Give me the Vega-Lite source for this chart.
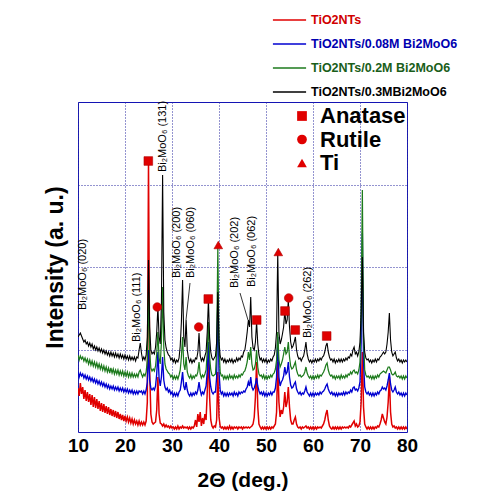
{
"$schema": "https://vega.github.io/schema/vega-lite/v6.json",
"width": 329, "height": 330,
"autosize": {"type": "none"},
"padding": {"left": 78, "top": 102, "right": 82, "bottom": 67},
"background": "white",
"config": {
  "view": {"stroke": "#1414b4", "strokeWidth": 1},
  "font": "Liberation Sans"
},
"datasets": {
"spec": [
{"x":10.00,"r":44,"b":60,"g":77,"k":95},{"x":10.25,"r":36,"b":55,"g":72,"k":97},{"x":10.50,"r":49,"b":59,"g":76,"k":99},{"x":10.75,"r":38,"b":56,"g":73,"k":96},
{"x":11.00,"r":45,"b":58,"g":75,"k":93},{"x":11.25,"r":33,"b":54,"g":71,"k":90},{"x":11.50,"r":42,"b":57,"g":74,"k":92},{"x":11.75,"r":31,"b":53,"g":70,"k":88},
{"x":12.00,"r":40,"b":56,"g":73,"k":90},{"x":12.25,"r":30,"b":52,"g":68,"k":86},{"x":12.50,"r":38,"b":55,"g":72,"k":89},{"x":12.75,"r":27,"b":51,"g":67,"k":85},
{"x":13.00,"r":37,"b":54,"g":71,"k":88},{"x":13.25,"r":25,"b":50,"g":66,"k":83},{"x":13.50,"r":35,"b":53,"g":70,"k":86},{"x":13.75,"r":24,"b":49,"g":65,"k":82},
{"x":14.00,"r":33,"b":52,"g":69,"k":85},{"x":14.25,"r":23,"b":48,"g":64,"k":81},{"x":14.50,"r":31,"b":51,"g":68,"k":84},{"x":14.75,"r":21,"b":47,"g":63,"k":80},
{"x":15.00,"r":29,"b":50,"g":67,"k":83},{"x":15.25,"r":20,"b":46,"g":62,"k":79},{"x":15.50,"r":28,"b":49,"g":66,"k":82},{"x":15.75,"r":19,"b":45,"g":61,"k":78},
{"x":16.00,"r":26,"b":48,"g":65,"k":81},{"x":16.25,"r":18,"b":44,"g":60,"k":77},{"x":16.50,"r":25,"b":47,"g":64,"k":80},{"x":16.75,"r":17,"b":43,"g":59,"k":76},
{"x":17.00,"r":23,"b":46,"g":64,"k":80},{"x":17.25,"r":16,"b":43,"g":59,"k":76},{"x":17.50,"r":22,"b":46,"g":63,"k":79},{"x":17.75,"r":15,"b":42,"g":58,"k":75},
{"x":18.00,"r":21,"b":45,"g":62,"k":79},{"x":18.25,"r":14,"b":42,"g":58,"k":75},{"x":18.50,"r":20,"b":45,"g":62,"k":78},{"x":18.75,"r":13,"b":41,"g":57,"k":74},
{"x":19.00,"r":18,"b":44,"g":61,"k":78},{"x":19.25,"r":12,"b":41,"g":57,"k":74},{"x":19.50,"r":17,"b":44,"g":61,"k":77},{"x":19.75,"r":11,"b":40,"g":56,"k":73},
{"x":20.00,"r":16,"b":43,"g":60,"k":77},{"x":20.25,"r":11,"b":40,"g":56,"k":73},{"x":20.50,"r":15,"b":43,"g":60,"k":76},{"x":20.75,"r":10,"b":39,"g":55,"k":72},
{"x":21.00,"r":14,"b":42,"g":59,"k":76},{"x":21.25,"r":9,"b":39,"g":55,"k":72},{"x":21.50,"r":13,"b":42,"g":59,"k":75},{"x":21.75,"r":8,"b":38,"g":55,"k":72},
{"x":22.00,"r":12,"b":41,"g":58,"k":75},{"x":22.25,"r":8,"b":38,"g":55,"k":71},{"x":22.50,"r":11,"b":41,"g":58,"k":75},{"x":22.75,"r":7,"b":38,"g":55,"k":74},
{"x":23.00,"r":11,"b":41,"g":60,"k":82},{"x":23.25,"r":7,"b":40,"g":62,"k":89},{"x":23.50,"r":10,"b":41,"g":58,"k":79},{"x":23.75,"r":7,"b":38,"g":55,"k":72},
{"x":24.00,"r":10,"b":41,"g":58,"k":75},{"x":24.25,"r":7,"b":38,"g":56,"k":72},{"x":24.50,"r":11,"b":42,"g":60,"k":77},{"x":24.75,"r":30,"b":50,"g":72,"k":95},
{"x":25.00,"r":271,"b":82,"g":140,"k":172},{"x":25.25,"r":60,"b":52,"g":80,"k":105},{"x":25.50,"r":18,"b":44,"g":64,"k":82},{"x":25.75,"r":10,"b":42,"g":61,"k":78},
{"x":26.00,"r":8,"b":44,"g":63,"k":80},{"x":26.25,"r":9,"b":42,"g":61,"k":78},{"x":26.50,"r":10,"b":46,"g":66,"k":85},{"x":26.75,"r":22,"b":58,"g":78,"k":100},
{"x":27.00,"r":55,"b":80,"g":100,"k":125},{"x":27.25,"r":18,"b":54,"g":74,"k":95},{"x":27.50,"r":9,"b":46,"g":68,"k":88},{"x":27.75,"r":8,"b":55,"g":90,"k":130},
{"x":28.00,"r":6,"b":75,"g":145,"k":257},{"x":28.25,"r":8,"b":52,"g":85,"k":120},{"x":28.50,"r":5,"b":45,"g":68,"k":92},{"x":28.75,"r":7,"b":42,"g":63,"k":84},
{"x":29.00,"r":5,"b":44,"g":61,"k":80},{"x":29.25,"r":6,"b":40,"g":59,"k":77},{"x":29.50,"r":4,"b":42,"g":58,"k":76},{"x":29.75,"r":6,"b":38,"g":55,"k":72},
{"x":30.00,"r":4,"b":40,"g":57,"k":74},{"x":30.25,"r":5,"b":36,"g":53,"k":70},{"x":30.50,"r":3,"b":39,"g":56,"k":73},{"x":30.75,"r":5,"b":36,"g":53,"k":69},
{"x":31.00,"r":3,"b":39,"g":56,"k":72},{"x":31.25,"r":6,"b":36,"g":53,"k":70},{"x":31.50,"r":3,"b":40,"g":57,"k":74},{"x":31.75,"r":5,"b":42,"g":62,"k":86},
{"x":32.00,"r":4,"b":50,"g":75,"k":110},{"x":32.25,"r":6,"b":60,"g":95,"k":152},{"x":32.50,"r":4,"b":46,"g":68,"k":95},{"x":32.75,"r":5,"b":42,"g":62,"k":85},
{"x":33.00,"r":4,"b":50,"g":75,"k":112},{"x":33.25,"r":5,"b":42,"g":60,"k":82},{"x":33.50,"r":3,"b":38,"g":56,"k":74},{"x":33.75,"r":5,"b":36,"g":54,"k":70},
{"x":34.00,"r":3,"b":39,"g":57,"k":73},{"x":34.25,"r":5,"b":36,"g":53,"k":69},{"x":34.50,"r":4,"b":39,"g":56,"k":72},{"x":34.75,"r":6,"b":37,"g":54,"k":70},
{"x":35.00,"r":12,"b":40,"g":57,"k":74},{"x":35.25,"r":5,"b":38,"g":56,"k":73},{"x":35.50,"r":18,"b":42,"g":60,"k":80},{"x":35.75,"r":10,"b":50,"g":70,"k":99},
{"x":36.00,"r":20,"b":42,"g":58,"k":76},{"x":36.25,"r":6,"b":37,"g":54,"k":71},{"x":36.50,"r":14,"b":40,"g":57,"k":74},{"x":36.75,"r":8,"b":38,"g":55,"k":71},
{"x":37.00,"r":18,"b":42,"g":58,"k":76},{"x":37.25,"r":12,"b":46,"g":62,"k":80},{"x":37.50,"r":40,"b":60,"g":80,"k":100},{"x":37.75,"r":85,"b":90,"g":110,"k":132},
{"x":38.00,"r":35,"b":55,"g":75,"k":95},{"x":38.25,"r":12,"b":45,"g":62,"k":80},{"x":38.50,"r":6,"b":40,"g":57,"k":74},{"x":38.75,"r":4,"b":38,"g":56,"k":72},
{"x":39.00,"r":6,"b":40,"g":57,"k":74},{"x":39.25,"r":5,"b":40,"g":58,"k":76},{"x":39.50,"r":12,"b":55,"g":80,"k":90},{"x":39.75,"r":60,"b":130,"g":185,"k":140},
{"x":40.00,"r":15,"b":60,"g":85,"k":90},{"x":40.25,"r":6,"b":42,"g":60,"k":76},{"x":40.50,"r":4,"b":38,"g":56,"k":72},{"x":40.75,"r":5,"b":40,"g":57,"k":74},
{"x":41.00,"r":3,"b":36,"g":53,"k":70},{"x":41.25,"r":5,"b":39,"g":56,"k":73},{"x":41.50,"r":3,"b":36,"g":53,"k":69},{"x":41.75,"r":5,"b":39,"g":56,"k":72},
{"x":42.00,"r":3,"b":36,"g":53,"k":70},{"x":42.25,"r":6,"b":39,"g":57,"k":73},{"x":42.50,"r":3,"b":37,"g":54,"k":70},{"x":42.75,"r":5,"b":39,"g":56,"k":73},
{"x":43.00,"r":3,"b":36,"g":53,"k":69},{"x":43.25,"r":5,"b":40,"g":57,"k":72},{"x":43.50,"r":4,"b":37,"g":54,"k":70},{"x":43.75,"r":5,"b":39,"g":56,"k":74},
{"x":44.00,"r":3,"b":36,"g":54,"k":71},{"x":44.25,"r":5,"b":40,"g":57,"k":74},{"x":44.50,"r":4,"b":38,"g":55,"k":72},{"x":44.75,"r":5,"b":40,"g":58,"k":76},
{"x":45.00,"r":3,"b":39,"g":57,"k":75},{"x":45.25,"r":5,"b":41,"g":60,"k":80},{"x":45.50,"r":4,"b":40,"g":61,"k":82},{"x":45.75,"r":5,"b":43,"g":65,"k":90},
{"x":46.00,"r":4,"b":45,"g":70,"k":100},{"x":46.25,"r":5,"b":50,"g":80,"k":112},{"x":46.50,"r":4,"b":46,"g":72,"k":105},{"x":46.75,"r":5,"b":55,"g":85,"k":135},
{"x":47.00,"r":6,"b":45,"g":68,"k":95},{"x":47.25,"r":8,"b":42,"g":62,"k":84},{"x":47.50,"r":15,"b":44,"g":63,"k":82},{"x":47.75,"r":35,"b":48,"g":68,"k":90},
{"x":48.00,"r":70,"b":54,"g":82,"k":110},{"x":48.25,"r":25,"b":46,"g":65,"k":88},{"x":48.50,"r":8,"b":41,"g":58,"k":77},{"x":48.75,"r":5,"b":38,"g":56,"k":72},
{"x":49.00,"r":3,"b":40,"g":57,"k":74},{"x":49.25,"r":5,"b":37,"g":54,"k":70},{"x":49.50,"r":3,"b":40,"g":57,"k":73},{"x":49.75,"r":5,"b":36,"g":53,"k":70},
{"x":50.00,"r":3,"b":39,"g":56,"k":73},{"x":50.25,"r":5,"b":36,"g":53,"k":69},{"x":50.50,"r":3,"b":39,"g":56,"k":72},{"x":50.75,"r":5,"b":37,"g":54,"k":70},
{"x":51.00,"r":3,"b":40,"g":57,"k":73},{"x":51.25,"r":5,"b":37,"g":55,"k":71},{"x":51.50,"r":4,"b":40,"g":58,"k":75},{"x":51.75,"r":6,"b":40,"g":59,"k":77},
{"x":52.00,"r":8,"b":44,"g":63,"k":84},{"x":52.25,"r":20,"b":55,"g":72,"k":100},{"x":52.50,"r":70,"b":95,"g":100,"k":179},{"x":52.75,"r":30,"b":55,"g":72,"k":100},
{"x":53.00,"r":15,"b":46,"g":65,"k":88},{"x":53.25,"r":22,"b":50,"g":68,"k":92},{"x":53.50,"r":18,"b":52,"g":72,"k":98},{"x":53.75,"r":25,"b":56,"g":78,"k":105},
{"x":54.00,"r":40,"b":65,"g":85,"k":121},{"x":54.25,"r":25,"b":58,"g":78,"k":108},{"x":54.50,"r":30,"b":60,"g":80,"k":112},{"x":54.75,"r":45,"b":70,"g":90,"k":132},
{"x":55.00,"r":25,"b":55,"g":75,"k":105},{"x":55.25,"r":12,"b":47,"g":66,"k":90},{"x":55.50,"r":8,"b":44,"g":63,"k":84},{"x":55.75,"r":8,"b":45,"g":64,"k":86},
{"x":56.00,"r":12,"b":48,"g":67,"k":90},{"x":56.25,"r":15,"b":50,"g":70,"k":95},{"x":56.50,"r":8,"b":43,"g":62,"k":82},{"x":56.75,"r":5,"b":40,"g":58,"k":76},
{"x":57.00,"r":4,"b":38,"g":56,"k":73},{"x":57.25,"r":5,"b":40,"g":57,"k":74},{"x":57.50,"r":3,"b":37,"g":55,"k":71},{"x":57.75,"r":5,"b":39,"g":56,"k":74},
{"x":58.00,"r":4,"b":38,"g":57,"k":76},{"x":58.25,"r":5,"b":41,"g":60,"k":82},{"x":58.50,"r":6,"b":45,"g":65,"k":90},{"x":58.75,"r":4,"b":40,"g":59,"k":78},
{"x":59.00,"r":5,"b":38,"g":56,"k":73},{"x":59.25,"r":3,"b":36,"g":54,"k":70},{"x":59.50,"r":5,"b":39,"g":56,"k":72},{"x":59.75,"r":3,"b":36,"g":53,"k":69},
{"x":60.00,"r":5,"b":39,"g":56,"k":72},{"x":60.25,"r":3,"b":36,"g":53,"k":70},{"x":60.50,"r":5,"b":39,"g":56,"k":73},{"x":60.75,"r":3,"b":37,"g":54,"k":70},
{"x":61.00,"r":5,"b":39,"g":57,"k":73},{"x":61.25,"r":4,"b":37,"g":54,"k":71},{"x":61.50,"r":5,"b":40,"g":57,"k":74},{"x":61.75,"r":4,"b":38,"g":56,"k":72},
{"x":62.00,"r":6,"b":40,"g":58,"k":75},{"x":62.25,"r":8,"b":41,"g":60,"k":76},{"x":62.50,"r":12,"b":43,"g":63,"k":80},{"x":62.75,"r":18,"b":46,"g":67,"k":86},
{"x":63.00,"r":22,"b":48,"g":69,"k":89},{"x":63.25,"r":12,"b":43,"g":62,"k":80},{"x":63.50,"r":6,"b":40,"g":58,"k":75},{"x":63.75,"r":4,"b":38,"g":56,"k":72},
{"x":64.00,"r":3,"b":40,"g":57,"k":73},{"x":64.25,"r":5,"b":37,"g":54,"k":70},{"x":64.50,"r":3,"b":39,"g":56,"k":73},{"x":64.75,"r":5,"b":36,"g":53,"k":69},
{"x":65.00,"r":3,"b":39,"g":56,"k":72},{"x":65.25,"r":5,"b":36,"g":54,"k":70},{"x":65.50,"r":3,"b":39,"g":56,"k":73},{"x":65.75,"r":5,"b":37,"g":53,"k":70},
{"x":66.00,"r":3,"b":39,"g":57,"k":73},{"x":66.25,"r":5,"b":37,"g":54,"k":70},{"x":66.50,"r":4,"b":40,"g":56,"k":73},{"x":66.75,"r":5,"b":37,"g":54,"k":71},
{"x":67.00,"r":4,"b":40,"g":57,"k":74},{"x":67.25,"r":5,"b":38,"g":55,"k":72},{"x":67.50,"r":4,"b":40,"g":58,"k":75},{"x":67.75,"r":6,"b":39,"g":57,"k":74},
{"x":68.00,"r":5,"b":42,"g":60,"k":78},{"x":68.25,"r":7,"b":40,"g":58,"k":76},{"x":68.50,"r":9,"b":44,"g":61,"k":82},{"x":68.75,"r":11,"b":45,"g":62,"k":85},
{"x":69.00,"r":6,"b":42,"g":59,"k":78},{"x":69.25,"r":8,"b":43,"g":60,"k":80},{"x":69.50,"r":5,"b":41,"g":58,"k":76},{"x":69.75,"r":6,"b":44,"g":62,"k":80},
{"x":70.00,"r":10,"b":50,"g":70,"k":90},{"x":70.25,"r":30,"b":90,"g":120,"k":120},{"x":70.50,"r":80,"b":199,"g":242,"k":175},{"x":70.75,"r":25,"b":70,"g":95,"k":100},
{"x":71.00,"r":8,"b":45,"g":62,"k":80},{"x":71.25,"r":5,"b":40,"g":57,"k":74},{"x":71.50,"r":3,"b":38,"g":55,"k":72},{"x":71.75,"r":5,"b":40,"g":56,"k":73},
{"x":72.00,"r":3,"b":37,"g":54,"k":70},{"x":72.25,"r":5,"b":39,"g":56,"k":72},{"x":72.50,"r":3,"b":36,"g":53,"k":69},{"x":72.75,"r":5,"b":39,"g":56,"k":72},
{"x":73.00,"r":3,"b":36,"g":53,"k":70},{"x":73.25,"r":5,"b":39,"g":56,"k":73},{"x":73.50,"r":4,"b":37,"g":54,"k":70},{"x":73.75,"r":6,"b":40,"g":57,"k":73},
{"x":74.00,"r":5,"b":38,"g":55,"k":72},{"x":74.25,"r":8,"b":41,"g":58,"k":75},{"x":74.50,"r":12,"b":42,"g":59,"k":76},{"x":74.75,"r":18,"b":45,"g":60,"k":78},
{"x":75.00,"r":14,"b":43,"g":61,"k":80},{"x":75.25,"r":10,"b":44,"g":60,"k":78},{"x":75.50,"r":8,"b":42,"g":59,"k":80},{"x":75.75,"r":15,"b":46,"g":62,"k":88},
{"x":76.00,"r":30,"b":52,"g":65,"k":100},{"x":76.25,"r":55,"b":59,"g":65,"k":119},{"x":76.50,"r":20,"b":48,"g":62,"k":92},{"x":76.75,"r":8,"b":42,"g":58,"k":80},
{"x":77.00,"r":5,"b":40,"g":57,"k":76},{"x":77.25,"r":6,"b":42,"g":58,"k":78},{"x":77.50,"r":4,"b":45,"g":60,"k":80},{"x":77.75,"r":5,"b":40,"g":56,"k":74},
{"x":78.00,"r":3,"b":38,"g":55,"k":71},{"x":78.25,"r":5,"b":40,"g":56,"k":73},{"x":78.50,"r":3,"b":37,"g":54,"k":70},{"x":78.75,"r":5,"b":39,"g":56,"k":72},
{"x":79.00,"r":3,"b":36,"g":53,"k":69},{"x":79.25,"r":5,"b":39,"g":56,"k":72},{"x":79.50,"r":3,"b":36,"g":53,"k":70},{"x":79.75,"r":5,"b":39,"g":56,"k":72},
{"x":80.00,"r":3,"b":37,"g":54,"k":70}
],
"phases": [
{"mx":24.96,"my":271,"ph":"Anatase"},{"mx":37.72,"my":133,"ph":"Anatase"},{"mx":48.02,"my":112,"ph":"Anatase"},{"mx":54.04,"my":121,"ph":"Anatase"},{"mx":56.23,"my":102,"ph":"Anatase"},{"mx":62.91,"my":96,"ph":"Anatase"},
{"mx":26.87,"my":125,"ph":"Rutile"},{"mx":35.68,"my":105,"ph":"Rutile"},{"mx":54.83,"my":134,"ph":"Rutile"},
{"mx":39.85,"my":187,"ph":"Ti"},{"mx":52.62,"my":180,"ph":"Ti"}
],
"labels": [
{"lx":11.06,"ly":122,"t":"Bi₂MoO₆ (020)"},
{"lx":22.49,"ly":90,"t":"Bi₂MoO₆ (111)"},
{"lx":28.02,"ly":260,"t":"Bi₂MoO₆ (131)"},
{"lx":31.0,"ly":154,"t":"Bi₂MoO₆ (200)"},
{"lx":34.04,"ly":154,"t":"Bi₂MoO₆ (060)"},
{"lx":43.4,"ly":144,"t":"Bi₂MoO₆ (202)"},
{"lx":46.96,"ly":145,"t":"Bi₂MoO₆ (062)"},
{"lx":59.0,"ly":94,"t":"Bi₂MoO₆ (262)"}
],
"leaders": [
{"x1":32.98,"y1":112,"x2":33.83,"y2":149},
{"x1":44.47,"y1":139,"x2":46.17,"y2":112}
]
},
"layer": [
{
  "data": {"name": "spec"},
  "transform": [{"fold": ["r","b","g","k"], "as": ["s","y"]}],
  "mark": {"type": "line", "clip": true},
  "encoding": {
    "x": {"field": "x", "type": "quantitative",
      "scale": {"domain": [10, 80], "nice": false, "zero": false},
      "axis": {"values": [10,20,30,40,50,60,70,80], "title": "2Θ (deg.)", "domain": false, "ticks": false, "labelFlush": false,
        "labelFontSize": 19, "labelFontWeight": "bold", "labelColor": "#000", "labelPadding": 4, "labelFont": "Liberation Sans",
        "titleFontSize": 21, "titleFontWeight": "bold", "titleColor": "#000", "titlePadding": 14, "titleFont": "Liberation Sans",
        "grid": true, "gridColor": "#2828a0", "gridDash": [1,2], "gridOpacity": 1}},
    "y": {"field": "y", "type": "quantitative",
      "scale": {"domain": [0, 330], "nice": false},
      "axis": {"values": [82.5,165,247.5], "labels": false, "ticks": false, "domain": false,
        "title": "Intensity (a. u.)", "titleFontSize": 23, "titleFontWeight": "bold", "titleColor": "#000", "titlePadding": 11, "titleFont": "Liberation Sans",
        "grid": true, "gridColor": "#2828a0", "gridDash": [1,2], "gridOpacity": 1}},
    "strokeWidth": {"field": "s", "type": "nominal",
      "scale": {"domain": ["r","b","g","k"], "range": [1.5,1.1,1.1,1.1]},
      "legend": null},
    "color": {"field": "s", "type": "nominal",
      "scale": {"domain": ["r","b","g","k"], "range": ["#e00000","#0000d0","#1c7a1c","#000000"]},
      "legend": {"title": null, "orient": "none", "legendX": 194, "legendY": -99.5, "padding": 0,
        "symbolType": "stroke", "symbolSize": 1100, "symbolStrokeWidth": 1.3,
        "rowPadding": -1.5, "labelOffset": 4,
        "labelFontSize": 12.5, "labelFontWeight": "bold", "labelFont": "Liberation Sans", "labelLimit": 300,
        "labelExpr": "{'r':'TiO2NTs','b':'TiO2NTs/0.08M Bi2MoO6','g':'TiO2NTs/0.2M Bi2MoO6','k':'TiO2NTs/0.3MBi2MoO6'}[datum.label]",
        "labelColor": {"expr": "datum.value == 'r' ? '#d00000' : datum.value == 'b' ? '#0000b0' : datum.value == 'g' ? '#1a5e1a' : '#000000'"}}}
  }
},
{
  "data": {"name": "leaders"},
  "mark": {"type": "rule", "color": "#000", "strokeWidth": 0.8},
  "encoding": {
    "x": {"field": "x1", "type": "quantitative"},
    "y": {"field": "y1", "type": "quantitative"},
    "x2": {"field": "x2"},
    "y2": {"field": "y2"}
  }
},
{
  "data": {"name": "labels"},
  "mark": {"type": "text", "angle": 270, "align": "left", "baseline": "middle", "fontSize": 11, "font": "Liberation Sans", "color": "#000"},
  "encoding": {
    "x": {"field": "lx", "type": "quantitative"},
    "y": {"field": "ly", "type": "quantitative"},
    "text": {"field": "t"}
  }
},
{
  "data": {"name": "phases"},
  "mark": {"type": "point", "filled": true, "size": 75, "color": "#e00000", "stroke": "#b00000", "strokeWidth": 0.6, "opacity": 1},
  "encoding": {
    "x": {"field": "mx", "type": "quantitative"},
    "y": {"field": "my", "type": "quantitative"},
    "shape": {"field": "ph", "type": "nominal",
      "scale": {"domain": ["Anatase","Rutile","Ti"], "range": ["square","circle","triangle-up"]},
      "legend": {"title": null, "orient": "none", "legendX": 213, "legendY": 3, "padding": 0,
        "symbolSize": 95, "symbolFillColor": "#e00000", "symbolStrokeColor": "#c00000", "symbolOpacity": 1,
        "rowPadding": 1.5, "labelOffset": 7, "labelFontSize": 22, "labelFontWeight": "bold", "labelColor": "#000", "labelFont": "Liberation Sans"}}
  }
}
],
"resolve": {"legend": {"color": "independent", "shape": "independent"}}
}
